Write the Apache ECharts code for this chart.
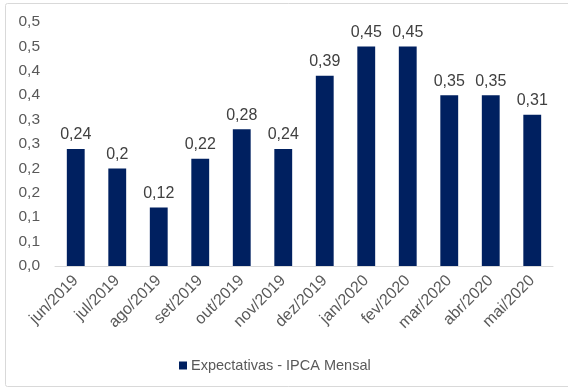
<!DOCTYPE html>
<html>
<head>
<meta charset="utf-8">
<script src="https://cdn.jsdelivr.net/npm/echarts@6/dist/echarts.min.js"></script>
<style>
  html, body { margin: 0; padding: 0; background: #fff; }
  #chart { width: 568px; height: 389px; }
</style>
</head>
<body>
<div id="chart"></div>
<script>
// Monthly IPCA expectations, Jun/2019 – May/2020
const categories = ['jun/2019', 'jul/2019', 'ago/2019', 'set/2019', 'out/2019', 'nov/2019',
                    'dez/2019', 'jan/2020', 'fev/2020', 'mar/2020', 'abr/2020', 'mai/2020'];
const ipcaValues = [0.24, 0.2, 0.12, 0.22, 0.28, 0.24, 0.39, 0.45, 0.45, 0.35, 0.35, 0.31];
const seriesName = 'Expectativas - IPCA Mensal';
// Value axis labels, one per 0.05 step, shown with one decimal place
const yTickLabels = ['0,0', '0,1', '0,1', '0,2', '0,2', '0,3', '0,3', '0,4', '0,4', '0,5', '0,5'];

const chart = echarts.init(document.getElementById('chart'), null, { renderer: 'canvas' });
const font = 'Liberation Sans, Arial, sans-serif';

chart.setOption({
  backgroundColor: '#ffffff',
  animation: false,
  textStyle: { fontFamily: font },
  graphic: [{
    type: 'rect',
    shape: { x: 5.5, y: 3.5, width: 600, height: 383, r: 2 },
    style: { fill: 'none', stroke: '#d9d9d9', lineWidth: 1 },
    silent: true,
    z: -1
  }],
  grid: { left: 55, right: 15, top: 22, bottom: 123 },
  legend: {
    data: [seriesName],
    bottom: 11,
    left: 174,
    itemWidth: 8,
    itemHeight: 8,
    itemGap: 4,
    icon: 'rect',
    textStyle: { fontFamily: font, fontSize: 14.5, color: '#595959', padding: [0, 0, 0, -1] }
  },
  xAxis: {
    type: 'category',
    data: categories,
    axisLine: { lineStyle: { color: '#d9d9d9', width: 1 } },
    axisTick: { show: false },
    axisLabel: {
      rotate: 45,
      interval: 0,
      margin: 12,
      fontFamily: font,
      fontSize: 16,
      color: '#595959'
    }
  },
  yAxis: {
    type: 'value',
    min: 0,
    max: 0.5,
    interval: 0.05,
    axisLine: { show: false },
    axisTick: { show: false },
    splitLine: { show: false },
    axisLabel: {
      margin: 15,
      fontFamily: font,
      fontSize: 15.5,
      color: '#595959',
      formatter: function (v) {
        const i = Math.round(v / 0.05);
        return yTickLabels[i] !== undefined ? yTickLabels[i] : '';
      }
    }
  },
  series: [{
    name: seriesName,
    type: 'bar',
    data: ipcaValues,
    barWidth: '43%',
    itemStyle: { color: '#002060' },
    label: {
      show: true,
      position: 'top',
      distance: 6,
      fontFamily: font,
      fontSize: 16,
      color: '#404040',
      formatter: function (p) { return String(p.value).replace('.', ','); }
    }
  }]
});
</script>
</body>
</html>
